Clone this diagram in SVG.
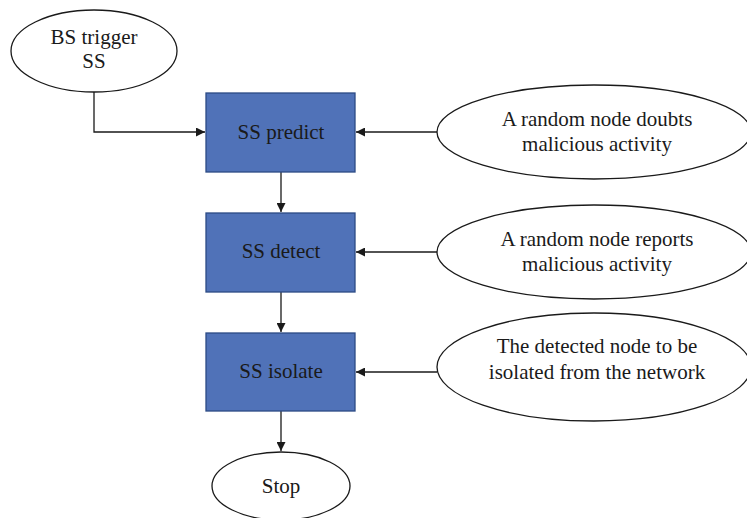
<svg xmlns="http://www.w3.org/2000/svg" width="747" height="518" viewBox="0 0 747 518">
  <style>
    .oval { fill: #ffffff; stroke: #1a1a1a; stroke-width: 1.3; }
    .box { fill: #5072b8; stroke: #2c4a85; stroke-width: 1.3; }
    .lbl { font-family: "Liberation Serif", "Times New Roman", serif; font-size: 21px; fill: #1a1a1a; text-anchor: middle; }
    .wire { fill: none; stroke: #1a1a1a; stroke-width: 1.3; }
  </style>
  <defs>
    <marker id="arrow" viewBox="0 0 10 10" refX="10" refY="5" markerWidth="10" markerHeight="9" markerUnits="userSpaceOnUse" orient="auto">
      <path d="M0,0 L10,5 L0,10 Z" fill="#1a1a1a"/>
    </marker>
  </defs>

  <rect width="747" height="518" fill="#ffffff"/>

  <g id="connectors">
    <path class="wire" d="M94,92 V132 H205" marker-end="url(#arrow)"/>
    <path class="wire" d="M437,132 H356" marker-end="url(#arrow)"/>
    <path class="wire" d="M437,252 H356" marker-end="url(#arrow)"/>
    <path class="wire" d="M437,372 H356" marker-end="url(#arrow)"/>
    <path class="wire" d="M281,172 V212" marker-end="url(#arrow)"/>
    <path class="wire" d="M281,292 V332" marker-end="url(#arrow)"/>
    <path class="wire" d="M281,411 V451" marker-end="url(#arrow)"/>
  </g>

  <g id="bs-trigger">
    <ellipse class="oval" cx="94" cy="51" rx="83" ry="41"/>
    <text class="lbl" x="94" y="44">BS trigger</text>
    <text class="lbl" x="94" y="68">SS</text>
  </g>

  <g id="ss-predict">
    <rect class="box" x="206" y="93" width="149" height="79"/>
    <text class="lbl" x="281" y="139">SS predict</text>
  </g>

  <g id="ss-detect">
    <rect class="box" x="206" y="213" width="149" height="79"/>
    <text class="lbl" x="281" y="258">SS detect</text>
  </g>

  <g id="ss-isolate">
    <rect class="box" x="206" y="333" width="149" height="78"/>
    <text class="lbl" x="281" y="378">SS isolate</text>
  </g>

  <g id="stop">
    <ellipse class="oval" cx="281" cy="486" rx="69" ry="34"/>
    <text class="lbl" x="281" y="493">Stop</text>
  </g>

  <g id="node-doubts">
    <ellipse class="oval" cx="594" cy="132" rx="157" ry="47"/>
    <text class="lbl" x="597" y="126">A random node doubts</text>
    <text class="lbl" x="597" y="151">malicious activity</text>
  </g>

  <g id="node-reports">
    <ellipse class="oval" cx="594" cy="252" rx="157" ry="47"/>
    <text class="lbl" x="597" y="246">A random node reports</text>
    <text class="lbl" x="597" y="271">malicious activity</text>
  </g>

  <g id="node-isolated">
    <ellipse class="oval" cx="594" cy="367" rx="157" ry="54"/>
    <text class="lbl" x="597" y="353">The detected node to be</text>
    <text class="lbl" x="597" y="379">isolated from the network</text>
  </g>
</svg>
